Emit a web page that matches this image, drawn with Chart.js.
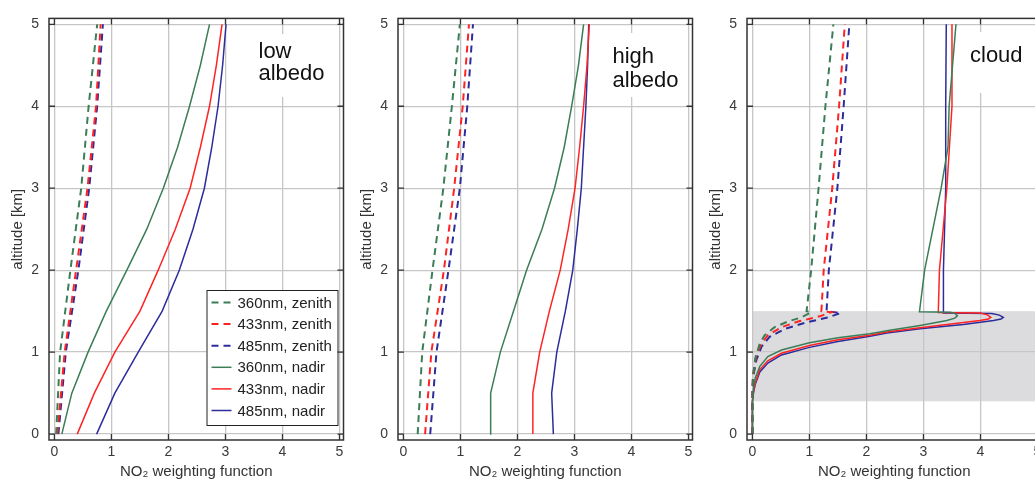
<!DOCTYPE html>
<html><head><meta charset="utf-8">
<script src="https://cdn.jsdelivr.net/npm/chart.js@4/dist/chart.umd.min.js"></script>
<style>
html,body{margin:0;padding:0;background:#fff;overflow:hidden;width:1035px;height:481px;}
.p{position:absolute;top:0;width:350px;height:481px;}
</style></head><body>
<div class="p" style="left:0px"><canvas id="c1" width="350" height="481"></canvas></div>
<div class="p" style="left:349px"><canvas id="c2" width="350" height="481"></canvas></div>
<div class="p" style="left:698px"><canvas id="c3" width="350" height="481"></canvas></div>
<script>
// ---------- tick labels ----------
const xTicks = [0, 1, 2, 3, 4, 5];
const yTicks = [0, 1, 2, 3, 4, 5];
const xTitle = 'NO\u2082 weighting function';
const yTitle = 'altitude [km]';
const seriesLabels = ['360nm, zenith', '433nm, zenith', '485nm, zenith', '360nm, nadir', '433nm, nadir', '485nm, nadir'];

// ---------- panel 1: low albedo ----------
const altZenith = [0, 1, 2, 3, 4, 5];
const altNadir = [0, 0.5, 1, 1.5, 2, 2.5, 3, 3.5, 4, 4.5, 5];
const lowZen360 = [0.03, 0.10, 0.28, 0.47, 0.60, 0.75];
const lowZen433 = [0.05, 0.18, 0.38, 0.58, 0.73, 0.81];
const lowZen485 = [0.07, 0.20, 0.42, 0.61, 0.75, 0.85];
const lowNad360 = [0.13, 0.305, 0.59, 0.91, 1.27, 1.62, 1.91, 2.16, 2.37, 2.56, 2.72];
const lowNad433 = [0.40, 0.70, 1.06, 1.50, 1.82, 2.12, 2.38, 2.56, 2.72, 2.84, 2.94];
const lowNad485 = [0.74, 1.06, 1.47, 1.89, 2.19, 2.43, 2.63, 2.76, 2.87, 2.95, 3.01];

// ---------- panel 2: high albedo ----------
const highZen360 = [0.25, 0.33, 0.51, 0.70, 0.85, 0.99];
const highZen433 = [0.38, 0.49, 0.71, 0.89, 1.04, 1.15];
const highZen485 = [0.47, 0.58, 0.79, 0.99, 1.12, 1.22];
const highNad360 = [1.52, 1.53, 1.70, 1.93, 2.16, 2.43, 2.65, 2.82, 2.95, 3.07, 3.16];
const highNad433 = [2.27, 2.27, 2.39, 2.56, 2.75, 2.89, 3.01, 3.09, 3.16, 3.22, 3.26];
const highNad485 = [2.63, 2.60, 2.69, 2.84, 2.97, 3.05, 3.12, 3.16, 3.20, 3.23, 3.25];

// ---------- panel 3: cloud ----------
const cloudLayer = [0.4, 1.5];
const cloudAltZen360 = [0, 0.49, 0.686, 0.926, 1.106, 1.206, 1.305, 1.373, 1.425, 1.487, 1.5, 2, 3, 4, 5];
const cloudZen360    = [0, 0, 0.01, 0.05, 0.13, 0.215, 0.39, 0.62, 0.86, 1.03, 0.95, 1.03, 1.16, 1.28, 1.42];
const cloudAltZen433 = [0, 0.53, 0.727, 0.966, 1.106, 1.206, 1.305, 1.373, 1.437, 1.487, 1.5, 2, 3, 4, 5];
const cloudZen433    = [0, 0, 0.01, 0.07, 0.16, 0.27, 0.51, 0.80, 1.18, 1.385, 1.21, 1.25, 1.40, 1.52, 1.62];
const cloudAltZen485 = [0, 0.5, 0.686, 0.906, 1.066, 1.186, 1.285, 1.357, 1.425, 1.477, 1.5, 2, 3, 4, 5];
const cloudZen485    = [0, 0, 0.01, 0.07, 0.16, 0.30, 0.57, 0.92, 1.33, 1.55, 1.30, 1.34, 1.49, 1.60, 1.70];
const cloudAltNad360 = [0, 0.4, 0.566, 0.686, 0.826, 0.946, 1.026, 1.114, 1.175, 1.225, 1.266, 1.326, 1.386, 1.415, 1.445, 1.472, 1.488, 1.494, 2, 3, 3.5, 4, 5];
const cloudNad360    = [0, 0, 0.02, 0.05, 0.13, 0.27, 0.51, 1.00, 1.50, 2.06, 2.41, 2.94, 3.41, 3.55, 3.595, 3.55, 3.47, 2.93, 3.02, 3.31, 3.43, 3.45, 3.57];
const cloudAltNad433 = [0, 0.4, 0.527, 0.626, 0.787, 0.894, 0.986, 1.082, 1.15, 1.206, 1.246, 1.297, 1.345, 1.386, 1.405, 1.425, 1.455, 1.478, 1.485, 2, 3, 4, 5];
const cloudNad433    = [0, 0, 0.02, 0.05, 0.13, 0.27, 0.51, 1.00, 1.50, 2.06, 2.36, 2.94, 3.52, 3.99, 4.14, 4.18, 4.12, 4.00, 3.26, 3.28, 3.41, 3.50, 3.50];
const cloudAltNad485 = [0, 0.4, 0.51, 0.607, 0.758, 0.866, 0.966, 1.058, 1.13, 1.194, 1.234, 1.285, 1.337, 1.386, 1.405, 1.425, 1.452, 1.472, 1.477, 2, 3, 4, 5];
const cloudNad485    = [0, 0, 0.02, 0.05, 0.13, 0.27, 0.51, 1.00, 1.50, 2.06, 2.36, 2.94, 3.70, 4.23, 4.36, 4.40, 4.33, 4.20, 3.35, 3.35, 3.39, 3.39, 3.40];

// ---------- styling ----------
const GREEN = '#3b7d57', RED = '#ff2323', BLUE = '#2c2c9c';
const colors = [GREEN, RED, BLUE, GREEN, RED, BLUE];
const FONT = '"Liberation Sans", Arial, sans-serif';

function mk(i, alts, vals) {
  const dashed = i < 3;
  return {
    label: seriesLabels[i],
    data: alts.map((a, k) => ({ x: vals[k], y: a })),
    borderColor: colors[i],
    backgroundColor: colors[i],
    borderWidth: dashed ? 2 : 1.5,
    borderDash: dashed ? [7, 5] : [],
    pointRadius: 0,
    fill: false,
    tension: 0
  };
}

const panelPlugin = {
  id: 'panel',
  beforeDraw(chart, args, o) {
    if (!o.cloud) return;
    const { ctx, chartArea: a, scales: { x, y } } = chart;
    ctx.save();
    ctx.fillStyle = '#dcdcdf';
    const x0 = x.getPixelForValue(0);
    const yTop = y.getPixelForValue(o.cloud[1]);
    const yBot = y.getPixelForValue(o.cloud[0]);
    ctx.fillRect(x0, yTop, a.right - x0, yBot - yTop);
    ctx.restore();
  },
  beforeDatasetsDraw(chart, args, o) {
    const { ctx } = chart;
    ctx.save();
    ctx.fillStyle = '#fff';
    ctx.fillRect(o.box[0], o.box[1], o.box[2], o.box[3]);
    ctx.fillStyle = '#111';
    ctx.font = '22px ' + FONT;
    ctx.textBaseline = 'alphabetic';
    ctx.textAlign = 'left';
    o.text.forEach((t, i) => ctx.fillText(t, o.tx, o.ty + i * o.dy));
    ctx.restore();
  },
  afterDatasetsDraw(chart, args, o) {
    if (!o.legend) return;
    const { ctx } = chart;
    const L = o.legend;
    ctx.save();
    ctx.fillStyle = '#fff';
    ctx.fillRect(L.x, L.y, L.w, L.h);
    ctx.strokeStyle = '#222';
    ctx.lineWidth = 1;
    ctx.strokeRect(L.x + 0.5, L.y + 0.5, L.w, L.h);
    ctx.font = '15px ' + FONT;
    ctx.textBaseline = 'middle';
    ctx.textAlign = 'left';
    chart.data.datasets.forEach((ds, i) => {
      const yy = L.y + L.first + i * L.step;
      ctx.strokeStyle = ds.borderColor;
      ctx.lineWidth = ds.borderWidth;
      ctx.setLineDash(ds.borderDash);
      ctx.beginPath();
      ctx.moveTo(L.x + 5, yy);
      ctx.lineTo(L.x + 25, yy);
      ctx.stroke();
      ctx.setLineDash([]);
      ctx.fillStyle = '#222';
      ctx.fillText(ds.label, L.x + 31, yy + 1);
    });
    ctx.restore();
  },
  afterDraw(chart) {
    const { ctx, chartArea: a, scales: { x, y } } = chart;
    ctx.save();
    ctx.strokeStyle = '#333';
    ctx.lineWidth = 1.5;
    ctx.setLineDash([]);
    ctx.strokeRect(a.left, a.top, a.right - a.left, a.bottom - a.top);
    ctx.lineWidth = 1.3;
    ctx.beginPath();
    xTicks.forEach(v => {
      const p = x.getPixelForValue(v);
      ctx.moveTo(p, a.bottom); ctx.lineTo(p, a.bottom - 6);
      ctx.moveTo(p, a.top); ctx.lineTo(p, a.top + 6);
    });
    yTicks.forEach(v => {
      const p = y.getPixelForValue(v);
      ctx.moveTo(a.left, p); ctx.lineTo(a.left + 6, p);
      ctx.moveTo(a.right, p); ctx.lineTo(a.right - 6, p);
    });
    ctx.stroke();
    ctx.restore();
  }
};

function scales() {
  const grid = { color: '#c6c6c6', lineWidth: 1.3, drawTicks: false };
  const tickFont = { family: FONT, size: 14 };
  return {
    x: {
      type: 'linear', position: 'bottom', min: -0.095, max: 5.07,
      afterBuildTicks: s => { s.ticks = xTicks.map(v => ({ value: v })); },
      afterFit: s => { s.height = 41; },
      grid, border: { display: false },
      ticks: { padding: 4, color: '#3a3a3a', font: tickFont, callback: v => String(v) },
      title: { display: true, text: xTitle, color: '#333', font: { family: FONT, size: 15 }, padding: 0 }
    },
    y: {
      type: 'linear', position: 'left', min: -0.072, max: 5.072,
      afterBuildTicks: s => { s.ticks = yTicks.map(v => ({ value: v })); },
      afterFit: s => { s.width = 49; },
      grid, border: { display: false },
      ticks: { padding: 10, color: '#3a3a3a', font: tickFont, callback: v => String(v) },
      title: { display: true, text: yTitle, color: '#333', font: { family: FONT, size: 15 }, padding: { top: 9, bottom: 0 } }
    }
  };
}

function makeChart(id, datasets, panelOpts) {
  return new Chart(document.getElementById(id), {
    type: 'line',
    data: { datasets },
    options: {
      indexAxis: 'y',
      responsive: false,
      animation: false,
      devicePixelRatio: 1,
      layout: { padding: { left: 0, top: 10.5, right: 6.5, bottom: 0 } },
      scales: scales(),
      plugins: { legend: { display: false }, tooltip: { enabled: false }, panel: panelOpts }
    },
    plugins: [panelPlugin]
  });
}

makeChart('c1', [
  mk(0, altZenith, lowZen360), mk(1, altZenith, lowZen433), mk(2, altZenith, lowZen485),
  mk(3, altNadir, lowNad360), mk(4, altNadir, lowNad433), mk(5, altNadir, lowNad485)
], {
  box: [250, 34, 86, 63], text: ['low', 'albedo'], tx: 258.5, ty: 58.3, dy: 21.7,
  legend: { x: 206.5, y: 290, w: 131, h: 135, first: 12.5, step: 21.6 }
});

makeChart('c2', [
  mk(0, altZenith, highZen360), mk(1, altZenith, highZen433), mk(2, altZenith, highZen485),
  mk(3, altNadir, highNad360), mk(4, altNadir, highNad433), mk(5, altNadir, highNad485)
], {
  box: [256, 33, 80, 64], text: ['high', 'albedo'], tx: 263.5, ty: 62.7, dy: 24.6
});

makeChart('c3', [
  mk(0, cloudAltZen360, cloudZen360), mk(1, cloudAltZen433, cloudZen433), mk(2, cloudAltZen485, cloudZen485),
  mk(3, cloudAltNad360, cloudNad360), mk(4, cloudAltNad433, cloudNad433), mk(5, cloudAltNad485, cloudNad485)
], {
  cloud: cloudLayer,
  box: [263, 32, 80, 61], text: ['cloud'], tx: 272, ty: 62.3, dy: 0
});
</script>
</body></html>
